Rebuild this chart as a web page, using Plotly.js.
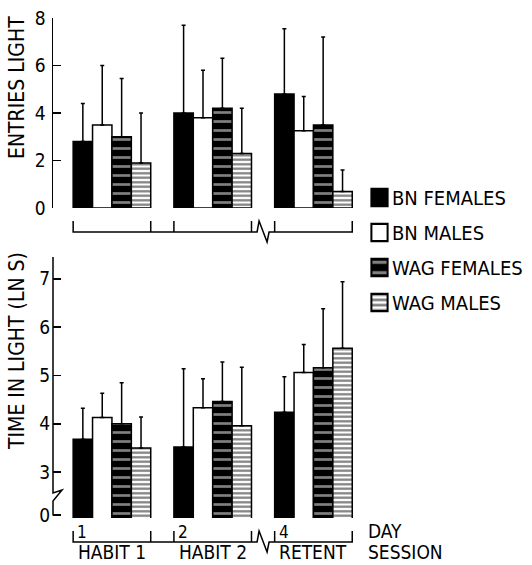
<!DOCTYPE html>
<html>
<head>
<meta charset="utf-8">
<script src="https://cdn.plot.ly/plotly-3.0.1.min.js"></script>
<style>
  html, body { margin: 0; padding: 0; background: #fff; }
  #chart { width: 532px; height: 565px; }
</style>
</head>
<body>
<div id="chart"></div>
<script>
// Sessions (x categories) and the day each session was run
const sessions = ['HABIT 1', 'HABIT 2', 'RETENT'];
const days = ['1', '2', '4'];
const groups = ['BN FEMALES', 'BN MALES', 'WAG FEMALES', 'WAG MALES'];

// Entries into the light compartment (mean, upper error)
const entBnF = [2.8, 4.0, 4.8];
const entBnFErr = [1.6, 3.7, 2.75];
const entBnM = [3.5, 3.8, 3.25];
const entBnMErr = [2.5, 2.0, 1.45];
const entWagF = [3.0, 4.2, 3.5];
const entWagFErr = [2.45, 2.1, 3.7];
const entWagM = [1.9, 2.3, 0.7];
const entWagMErr = [2.1, 1.9, 0.9];

// Time in light, ln seconds (mean, upper error)
const timeBnF = [3.68, 3.52, 4.24];
const timeBnFErr = [0.64, 1.62, 0.73];
const timeBnM = [4.13, 4.33, 5.06];
const timeBnMErr = [0.5, 0.6, 0.58];
const timeWagF = [4.0, 4.46, 5.16];
const timeWagFErr = [0.85, 0.82, 1.22];
const timeWagM = [3.5, 3.96, 5.56];
const timeWagMErr = [0.64, 1.21, 1.38];

// y-axis ticks of the lower panel: the axis is broken between 0 and 3
const timeTickVals = [2.11, 3, 4, 5, 6, 7];
const timeTickText = ['0', '3', '4', '5', '6', '7'];

const FONT = '"DejaVu Sans Condensed", "Liberation Sans Narrow", "Roboto Condensed", "DejaVu Sans", sans-serif';

// Fill styles of the four groups
const styles = [
  { color: '#000', pattern: { shape: '' } },
  { color: '#fff', pattern: { shape: '' } },
  { color: '#000', pattern: { shape: '-', fgcolor: '#fff', bgcolor: '#000', size: 9, solidity: 0.3, fillmode: 'overlay' } },
  { color: '#fff', pattern: { shape: '-', fgcolor: '#000', bgcolor: '#fff', size: 4.5, solidity: 0.5, fillmode: 'overlay' } }
];

function barTrace(name, vals, errs, idx, xa, ya, showLegend) {
  return {
    type: 'bar',
    name: name,
    x: sessions,
    y: vals,
    xaxis: xa,
    yaxis: ya,
    legendgroup: name,
    showlegend: showLegend,
    marker: {
      color: styles[idx].color,
      pattern: styles[idx].pattern,
      line: { color: '#000', width: 1.5 }
    },
    error_y: {
      type: 'data',
      symmetric: false,
      array: errs,
      arrayminus: errs.map(() => 0),
      color: '#000',
      thickness: 1.5,
      width: 2
    },
    hoverinfo: 'skip'
  };
}

const data = [
  barTrace(groups[0], entBnF, entBnFErr, 0, 'x', 'y', true),
  barTrace(groups[1], entBnM, entBnMErr, 1, 'x', 'y', true),
  barTrace(groups[2], entWagF, entWagFErr, 2, 'x', 'y', true),
  barTrace(groups[3], entWagM, entWagMErr, 3, 'x', 'y', true),
  barTrace(groups[0], timeBnF, timeBnFErr, 0, 'x2', 'y2', false),
  barTrace(groups[1], timeBnM, timeBnMErr, 1, 'x2', 'y2', false),
  barTrace(groups[2], timeWagF, timeWagFErr, 2, 'x2', 'y2', false),
  barTrace(groups[3], timeWagM, timeWagMErr, 3, 'x2', 'y2', false)
];

// Plot-area geometry (px) used to place the hand-drawn axis pieces
const W = 532, H = 565;
const M = { l: 53, r: 172, t: 18, b: 47, autoexpand: false };
const PW = W - M.l - M.r, PH = H - M.t - M.b;
const px2x = p => (p - M.l) / PW;            // pixel -> paper x
const py2y = p => (H - M.b - p) / PH;        // pixel -> paper y

const BARGAP = 0.23;
const half = (1 - BARGAP) / 2;
const xRange = [-0.585, 2.462];
const pxPerUnit = PW / (xRange[1] - xRange[0]);

const shapes = [];
const line = { color: '#000', width: 1.5 };

// Lower y axis with a break between 0 and 3
shapes.push({
  type: 'path', xref: 'paper', yref: 'paper', line: line,
  path: `M${px2x(53)},${py2y(257)} L${px2x(53)},${py2y(493)} L${px2x(62)},${py2y(490)} L${px2x(53)},${py2y(501)} L${px2x(53)},${py2y(515.5)}`
});

// Bracket axes below each panel (session groupings) with a break before retention
function bracket(yPx, tickPx) {
  const yb = py2y(yPx), yt = py2y(tickPx);
  const dx = p => p / pxPerUnit;
  const dy = p => p / PH;
  const a0 = 0 - half, a1 = 0 + half, b0 = 1 - half, b1 = 1 + half, c0 = 2 - half, c1 = 2 + half;
  const mid = (b1 + c0) / 2;
  const path =
    `M${a0},${yt} L${a0},${yb} L${mid - dx(6)},${yb} L${mid - dx(4)},${yb + dy(11)} ` +
    `L${mid + dx(4)},${yb - dy(10)} L${mid + dx(6)},${yb} L${c1},${yb} L${c1},${yt} ` +
    `M${a1},${yb} L${a1},${yt} M${b0},${yb} L${b0},${yt} M${b1},${yb} L${b1},${yt} M${c0},${yb} L${c0},${yt}`;
  return { type: 'path', xref: 'x', yref: 'paper', line: line, path: path };
}
shapes.push(bracket(232, 221));
shapes.push(Object.assign(bracket(542, 531), { xref: 'x2' }));

const annotations = [];
const ann = (o) => annotations.push(Object.assign({ showarrow: false, font: { family: FONT, size: 19, color: '#000' } }, o));

ann({ text: 'ENTRIES LIGHT', textangle: -90, xref: 'paper', yref: 'paper', x: px2x(17), y: py2y(88), xanchor: 'center', yanchor: 'middle', font: { family: FONT, size: 21, color: '#000' } });
ann({ text: 'TIME IN LIGHT (LN S)', textangle: -90, xref: 'paper', yref: 'paper', x: px2x(17), y: py2y(351), xanchor: 'center', yanchor: 'middle', font: { family: FONT, size: 21, color: '#000' } });

days.forEach((d, i) => {
  ann({ text: d, xref: 'x2', yref: 'paper', x: i - half + 0.02, y: py2y(532), xanchor: 'left', yanchor: 'middle', font: { family: FONT, size: 17, color: '#000' } });
});
sessions.forEach((s, i) => {
  ann({ text: s, xref: 'x2', yref: 'paper', x: i, y: py2y(552), xanchor: 'center', yanchor: 'middle' });
});
ann({ text: 'DAY', xref: 'paper', yref: 'paper', x: px2x(366), y: py2y(531), xanchor: 'left', yanchor: 'middle' });
ann({ text: 'SESSION', xref: 'paper', yref: 'paper', x: px2x(366), y: py2y(552), xanchor: 'left', yanchor: 'middle' });

const hiddenX = {
  type: 'category', range: xRange, showline: false, showticklabels: false,
  ticks: '', showgrid: false, zeroline: false, fixedrange: true
};
const yCommon = {
  showgrid: false, zeroline: false, ticks: 'inside', ticklen: 8, tickwidth: 1.5,
  tickcolor: '#000', tickfont: { family: FONT, size: 19, color: '#000' }, ticklabelstandoff: 2
};

const layout = {
  width: W, height: H,
  margin: M,
  paper_bgcolor: '#fff', plot_bgcolor: '#fff',
  font: { family: FONT, color: '#000' },
  barmode: 'group', bargap: BARGAP, bargroupgap: 0,
  xaxis: Object.assign({ anchor: 'y' }, hiddenX),
  xaxis2: Object.assign({ anchor: 'y2' }, hiddenX),
  yaxis: Object.assign({
    domain: [0.62, 1], anchor: 'x', range: [0, 8], dtick: 2, tick0: 0,
    showline: true, linecolor: '#000', linewidth: 1.5
  }, yCommon),
  yaxis2: Object.assign({
    domain: [0, 0.522], anchor: 'x2', range: [2.05, 7.45],
    tickmode: 'array', tickvals: timeTickVals, ticktext: timeTickText, showline: false
  }, yCommon),
  showlegend: true,
  legend: {
    x: px2x(352), y: py2y(178), xanchor: 'left', yanchor: 'top',
    traceorder: 'grouped', tracegroupgap: 6,
    font: { family: FONT, size: 20, color: '#000' },
    bgcolor: 'rgba(0,0,0,0)', borderwidth: 0
  },
  shapes: shapes,
  annotations: annotations
};

Plotly.newPlot('chart', data, layout, { staticPlot: true, displayModeBar: false }).then(gd => {
  // Larger legend swatches
  gd.querySelectorAll('.legend .legendpoints path').forEach(p => {
    p.setAttribute('transform', 'translate(27.5,0) scale(1.35,1.45)');
  });
});
</script>
</body>
</html>
